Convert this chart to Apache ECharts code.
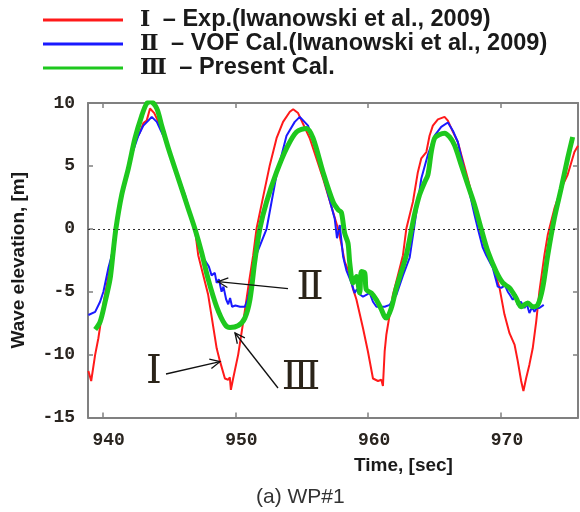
<!DOCTYPE html>
<html>
<head>
<meta charset="utf-8">
<script src="https://cdn.jsdelivr.net/npm/echarts@6/dist/echarts.min.js"></script>
<style>
html,body{margin:0;padding:0;background:#fff;}
#c{width:580px;height:512px;}
</style>
</head>
<body>
<div id="c"></div>
<script>
// ---- data ----
const seriesNames = ['Ⅰ – Exp.(Iwanowski et al., 2009)', 'Ⅱ – VOF Cal.(Iwanowski et al., 2009)', 'Ⅲ – Present Cal.'];
const xTicks = [940, 950, 960, 970];
const yTicks = [-15, -10, -5, 0, 5, 10];

const tRed = [938.93, 939.14, 939.44, 939.68, 940.06, 940.44, 940.69, 941.0, 941.44, 941.94, 942.32, 942.82, 943.07, 943.32, 943.57, 943.70, 943.89, 944.20, 944.70, 945.20, 945.70, 946.45, 946.95, 947.2, 947.95, 948.59, 948.83, 949.21, 949.46, 949.58, 949.66, 949.83, 950.21, 950.59, 950.96, 951.34, 951.59, 952.10, 952.59, 953.10, 953.59, 954.10, 954.35, 954.72, 955.60, 956.60, 957.35, 957.73, 957.98, 958.23, 958.61, 958.86, 959.11, 959.61, 959.98, 960.36, 960.74, 960.99, 961.11, 961.24, 961.37, 961.62, 961.86, 962.24, 962.62, 962.87, 963.37, 963.74, 964.00, 964.38, 964.62, 964.87, 965.25, 965.75, 966.00, 966.38, 966.75, 967.50, 968.14, 968.51, 968.89, 969.26, 969.89, 970.26, 970.64, 971.02, 971.26, 971.52, 971.69, 971.89, 972.14, 972.39, 972.65, 972.89, 973.27, 973.52, 974.02, 974.53, 975.02, 975.53, 975.8];
const vRed = [-11.3, -12.1, -10.0, -8.7, -6.0, -3.7, -2.1, 0, 2.9, 5.06, 6.65, 7.7, 8.4, 8.6, 9.56, 9.7, 9.2, 8.5, 7.2, 5.5, 4.0, 1.6, 0, -2.1, -5.25, -9.5, -10.5, -11.9, -12.0, -11.8, -12.8, -11.9, -10.0, -7.4, -4.7, -2.1, 0, 2.6, 5.06, 7.2, 8.5, 9.3, 9.5, 9.2, 7.2, 4.0, 1.36, 0, -1.2, -2.6, -3.6, -4.8, -5.6, -7.9, -9.75, -11.9, -12.1, -12.0, -12.5, -9.75, -8.4, -6.8, -5.25, -3.7, -2.1, 0, 2.15, 4.5, 5.6, 6.1, 7.4, 8.2, 8.7, 8.9, 8.6, 7.7, 6.9, 4.0, 1.36, -0.5, -1.9, -2.5, -4.7, -6.8, -8.3, -9.2, -10.5, -12.1, -12.9, -11.9, -10.8, -9.5, -7.4, -5.0, -2.1, -0.5, 1.6, 3.2, 4.3, 6.1, 6.6];

const tBlue = [938.93, 939.44, 939.81, 940.06, 940.44, 940.69, 941.0, 941.44, 942.20, 942.69, 943.07, 943.44, 943.70, 944.08, 944.57, 945.20, 946.20, 946.95, 947.46, 947.58, 948.0, 948.21, 948.45, 948.59, 948.75, 948.96, 949.10, 949.30, 949.46, 949.60, 949.75, 950.0, 950.35, 950.71, 950.94, 951.22, 951.6, 952.35, 953.10, 953.85, 954.47, 954.85, 955.47, 956.11, 956.86, 957.48, 957.65, 957.86, 958.11, 958.36, 958.74, 958.98, 959.15, 959.36, 959.61, 959.86, 960.11, 960.36, 960.62, 960.99, 961.24, 961.62, 962.12, 962.62, 963.12, 963.50, 964.00, 964.50, 965.00, 965.50, 966.00, 966.38, 966.75, 967.50, 968.01, 968.26, 968.63, 968.89, 969.38, 969.76, 970.02, 970.3, 970.51, 970.7, 970.89, 971.1, 971.26, 971.5, 971.77, 971.95, 972.14, 972.35, 972.52, 972.7, 972.89, 973.22];
const vBlue = [-6.85, -6.6, -5.8, -5.0, -3.1, -2.1, 0, 2.7, 5.9, 7.4, 8.2, 8.6, 8.9, 8.5, 7.4, 5.6, 2.7, 0, -2.1, -2.3, -3.0, -3.7, -3.5, -4.3, -4.0, -5.0, -4.6, -5.6, -6.0, -5.5, -6.2, -6.1, -6.2, -6.2, -5.6, -4.0, -2.0, 0, 4.3, 7.4, 8.5, 8.9, 8.2, 6.1, 3.2, 0.8, -0.75, 0.3, -2.2, -3.3, -4.3, -5.1, -4.8, -5.2, -5.4, -5.25, -5.1, -5.8, -6.2, -6.2, -6.2, -6.05, -5.25, -3.7, -2.3, 0.4, 4.0, 5.9, 7.4, 8.1, 8.45, 7.8, 6.9, 3.5, 1.1, 0, -1.5, -2.1, -3.1, -4.6, -4.7, -4.5, -5.0, -5.3, -5.65, -5.2, -6.05, -5.8, -6.3, -6.0, -6.7, -6.2, -6.6, -6.3, -6.3, -6.05];

const tGreen = [939.44, 939.81, 940.19, 940.56, 940.78, 941.0, 941.44, 941.94, 942.44, 942.95, 943.32, 943.62, 944.08, 944.45, 944.95, 945.70, 946.45, 946.95, 947.46, 947.95, 948.59, 949.21, 949.59, 950.21, 950.71, 951.10, 951.46, 951.84, 952.35, 953.10, 953.85, 954.60, 955.35, 955.85, 956.60, 957.35, 957.75, 957.98, 958.23, 958.48, 958.61, 958.86, 959.11, 959.36, 959.49, 959.74, 959.86, 960.24, 960.62, 960.99, 961.24, 961.37, 961.74, 962.12, 962.50, 962.87, 963.27, 963.50, 963.87, 964.25, 964.50, 964.75, 965.00, 965.38, 965.75, 966.13, 966.50, 967.01, 967.50, 968.01, 968.51, 969.01, 969.64, 970.14, 970.64, 971.14, 971.52, 972.02, 972.39, 972.77, 973.14, 973.52, 974.02, 974.53, 975.02, 975.40];
const vGreen = [-8.0, -7.4, -5.8, -4.0, -2.0, 0, 2.7, 4.8, 7.2, 9.0, 9.96, 10.1, 9.56, 8.2, 6.4, 4.0, 1.6, 0, -1.9, -4.0, -6.2, -7.6, -7.85, -7.7, -7.1, -5.6, -2.6, 0, 2.15, 4.5, 6.4, 7.7, 7.97, 7.2, 4.5, 2.15, 1.5, 1.3, -0.36, -1.15, -2.7, -4.3, -3.8, -5.1, -3.4, -3.5, -4.85, -5.1, -5.65, -6.4, -7.0, -7.1, -6.3, -4.7, -3.4, -2.1, 0, 1.2, 2.7, 3.7, 4.3, 6.1, 7.2, 7.5, 7.6, 7.3, 6.65, 5.06, 3.5, 1.9, 0, -1.8, -3.4, -4.3, -4.7, -5.5, -6.2, -5.9, -6.2, -6.05, -4.7, -2.1, 0.83, 3.2, 5.6, 7.3];

const zeroLine = [0];

// ---- build ----
const pairs = (t, v) => t.map((x, i) => [x, v[i]]);
const colors = ['#ff1a1a', '#1a1aff', '#1ec81e'];
const axisGray = '#808080';
const labelFont = "'Liberation Mono', 'DejaVu Sans Mono', monospace";

const chart = echarts.init(document.getElementById('c'), null, {renderer: 'canvas'});

function arrow(x1, y1, x2, y2) {
  const ang = Math.atan2(y2 - y1, x2 - x1);
  const L = 11, a = 0.45;
  const p1 = [x2 - L * Math.cos(ang - a), y2 - L * Math.sin(ang - a)];
  const p2 = [x2 - L * Math.cos(ang + a), y2 - L * Math.sin(ang + a)];
  return [
    {type: 'line', shape: {x1, y1, x2, y2}, style: {stroke: '#111', lineWidth: 1.3}, z: 100},
    {type: 'polyline', shape: {points: [p1, [x2, y2], p2]}, style: {stroke: '#111', lineWidth: 1.3, fill: null}, z: 100}
  ];
}

const romanFont = "'DejaVu Serif', 'Liberation Serif', 'Noto Sans CJK KR', serif";

const option = {
  animation: false,
  backgroundColor: '#fff',
  color: colors,
  grid: {left: 88, right: 2, top: 103, bottom: 94.5},
  legend: {
    data: seriesNames,
    orient: 'vertical',
    left: 38,
    top: 3,
    itemWidth: 80,
    itemHeight: 3,
    itemGap: 0,
    icon: 'rect',
    formatter: function (name) {
      const i = name.indexOf(' ');
      return '{r|' + name.slice(0, i) + '}{t|' + name.slice(i) + '}';
    },
    textStyle: {
      padding: [0, 0, 0, 12],
      rich: {
        r: {fontFamily: romanFont, fontWeight: 'bold', fontSize: 22, color: '#1a1a1a', padding: [0, 6, 0, 0]},
        t: {fontFamily: "'Liberation Sans', Arial, sans-serif", fontWeight: 'bold', fontSize: 23.5, color: '#1a1a1a'}
      }
    }
  },
  xAxis: [{
    type: 'value',
    min: 938.9,
    max: 975.8,
    position: 'bottom',
    splitLine: {show: false},
    axisLine: {show: true, onZero: false, lineStyle: {color: axisGray, width: 2}},
    axisTick: {show: true, inside: true, length: 5, customValues: xTicks, lineStyle: {color: axisGray, width: 1.5}},
    axisLabel: {customValues: xTicks, fontFamily: labelFont, fontWeight: 'bold', fontSize: 18, color: '#2a2520', margin: 14, padding: [0, 0, 0, 12]}
  }, {
    type: 'value',
    min: 938.9,
    max: 975.8,
    position: 'top',
    splitLine: {show: false},
    axisLine: {show: true, onZero: false, lineStyle: {color: axisGray, width: 2}},
    axisTick: {show: true, inside: true, length: 5, customValues: xTicks, lineStyle: {color: axisGray, width: 1.5}},
    axisLabel: {show: false}
  }],
  yAxis: [{
    type: 'value',
    min: -15,
    max: 10,
    interval: 5,
    position: 'left',
    name: 'Wave elevation, [m]',
    nameLocation: 'middle',
    nameGap: 60,
    nameTextStyle: {fontFamily: "'Liberation Sans', Arial, sans-serif", fontWeight: 'bold', fontSize: 19, color: '#1a1a1a'},
    splitLine: {show: false},
    axisLine: {show: true, onZero: false, lineStyle: {color: axisGray, width: 2}},
    axisTick: {show: true, inside: true, length: 5, lineStyle: {color: axisGray, width: 1.5}},
    axisLabel: {fontFamily: labelFont, fontWeight: 'bold', fontSize: 18, color: '#2a2520', margin: 13}
  }, {
    type: 'value',
    min: -15,
    max: 10,
    interval: 5,
    position: 'right',
    splitLine: {show: false},
    axisLine: {show: true, onZero: false, lineStyle: {color: axisGray, width: 2}},
    axisTick: {show: true, inside: true, length: 5, lineStyle: {color: axisGray, width: 1.5}},
    axisLabel: {show: false}
  }],
  series: [{
    name: seriesNames[0],
    type: 'line',
    data: pairs(tRed, vRed),
    showSymbol: false,
    symbol: 'none',
    lineStyle: {width: 2, color: colors[0]},
    itemStyle: {color: colors[0]},
    z: 2,
    markLine: {
      silent: true,
      symbol: 'none',
      label: {show: false},
      lineStyle: {type: [2, 3], color: '#333', width: 1.2},
      data: zeroLine.map(v => ({yAxis: v}))
    }
  }, {
    name: seriesNames[1],
    type: 'line',
    data: pairs(tBlue, vBlue),
    showSymbol: false,
    symbol: 'none',
    lineStyle: {width: 2, color: colors[1]},
    itemStyle: {color: colors[1]},
    z: 3
  }, {
    name: seriesNames[2],
    type: 'line',
    data: pairs(tGreen, vGreen),
    showSymbol: false,
    symbol: 'none',
    smooth: 0.3,
    lineStyle: {width: 5, color: colors[2]},
    itemStyle: {color: colors[2]},
    z: 4
  }],
  graphic: [
    {type: 'text', left: 354, top: 456, style: {text: 'Time, [sec]', font: "bold 19px 'Liberation Sans', Arial, sans-serif", fill: '#1a1a1a'}},
    {type: 'text', left: 256, top: 487, style: {text: '(a) WP#1', font: "21px 'Liberation Sans', Arial, sans-serif", fill: '#333'}},
    {type: 'text', x: 310, y: 289, style: {text: 'Ⅱ', font: "40px " + romanFont, fill: '#2b2419', align: 'center', verticalAlign: 'middle'}, z: 100},
    {type: 'text', x: 154, y: 373, style: {text: 'Ⅰ', font: "40px " + romanFont, fill: '#2b2419', align: 'center', verticalAlign: 'middle'}, z: 100},
    {type: 'text', x: 301, y: 379, style: {text: 'Ⅲ', font: "40px " + romanFont, fill: '#2b2419', align: 'center', verticalAlign: 'middle'}, z: 100}
  ].concat(arrow(288, 288.7, 218, 281.7), arrow(166, 374, 220, 361.7), arrow(278, 388, 235, 333))
};

chart.setOption(option);
</script>
</body>
</html>
